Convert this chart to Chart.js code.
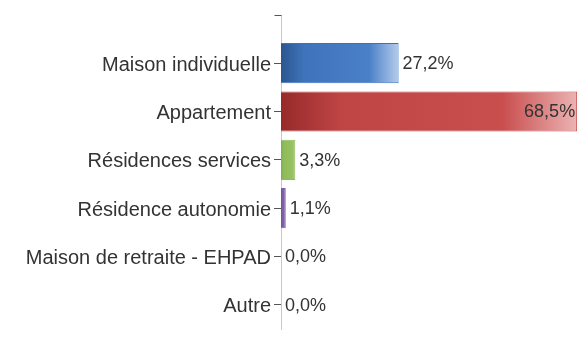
<!DOCTYPE html>
<html>
<head>
<meta charset="utf-8">
<script src="https://cdn.jsdelivr.net/npm/chart.js@4.4.1/dist/chart.umd.min.js"></script>
<style>
  html, body { margin: 0; padding: 0; background: #fff; }
  #wrap { width: 579px; height: 351px; }
</style>
</head>
<body>
<div id="wrap"><canvas id="chartLogement"></canvas></div>
<script>
// Données
const categories = ['Maison individuelle', 'Appartement', 'Résidences services', 'Résidence autonomie', 'Maison de retraite - EHPAD', 'Autre'];
const percentages = [27.2, 68.5, 3.3, 1.1, 0.0, 0.0];

// Couleurs des barres (gauche foncé -> droite clair)
const barStops = [
    ['#2b568f', '#3f74bc', '#4a80c8', '#b4cceb'],
    ['#972a2a', '#bf4444', '#c94f4f', '#ecb3b3'],
    ['#7fae4c', '#8fbc5a', '#95c060', '#a9cf78'],
    ['#6a4f96', '#7b5ea7', '#7f62ab', '#9a82c0'],
    ['#888', '#888', '#888', '#888'],
    ['#888', '#888', '#888', '#888']
];
const borderColors = ['#3a72c0', '#c44a4a', '#8fbc5a', '#7b5ea7', '#888', '#888'];

function barGradient(context) {
    const chart = context.chart;
    const area = chart.chartArea;
    const i = context.dataIndex;
    if (!area || i === undefined) return borderColors[i || 0];
    const x = chart.scales.x;
    const x0 = x.getPixelForValue(0);
    const x1 = Math.max(x.getPixelForValue(percentages[i]), x0 + 1);
    const g = chart.ctx.createLinearGradient(x0, 0, x1, 0);
    const s = barStops[i];
    g.addColorStop(0, s[0]);
    g.addColorStop(0.2, s[1]);
    g.addColorStop(0.75, s[2]);
    g.addColorStop(1, s[3]);
    return g;
}

// Étiquettes de valeur (format français)
const valueLabels = {
    id: 'valueLabels',
    afterDatasetsDraw(chart) {
        const ctx = chart.ctx;
        const meta = chart.getDatasetMeta(0);
        ctx.save();
        ctx.font = '18px "Liberation Sans", Arial, sans-serif';
        ctx.fillStyle = '#333';
        ctx.textBaseline = 'middle';
        meta.data.forEach((bar, i) => {
            const txt = percentages[i].toFixed(1).replace('.', ',') + '%';
            const w = ctx.measureText(txt).width;
            if (bar.x + 4 + w > chart.chartArea.right) {
                ctx.textAlign = 'right';
                ctx.fillText(txt, bar.x - 2, bar.y + 1);
            } else {
                ctx.textAlign = 'left';
                ctx.fillText(txt, bar.x + 4, bar.y + 1);
            }
        });
        ctx.restore();
    }
};

// Prolongement de l'axe vers le haut avec un petit trait
const axisTop = {
    id: 'axisTop',
    afterDraw(chart) {
        const ctx = chart.ctx;
        const x = chart.chartArea.left + 0.5;
        ctx.save();
        ctx.strokeStyle = '#c8c8c8';
        ctx.lineWidth = 1;
        ctx.beginPath();
        ctx.moveTo(x, 15);
        ctx.lineTo(x, chart.chartArea.top);
        ctx.stroke();
        ctx.strokeStyle = '#555';
        ctx.beginPath();
        ctx.moveTo(x - 7, 15.5);
        ctx.lineTo(x, 15.5);
        ctx.stroke();
        ctx.restore();
    }
};

const ctx = document.getElementById('chartLogement').getContext('2d');
const chart = new Chart(ctx, {
    type: 'bar',
    data: {
        labels: categories,
        datasets: [{
            data: percentages,
            backgroundColor: barGradient,
            borderColor: borderColors,
            borderWidth: 1,
            barPercentage: 0.83,
            categoryPercentage: 1
        }]
    },
    options: {
        indexAxis: 'y',
        responsive: true,
        maintainAspectRatio: false,
        animation: false,
        layout: { padding: { top: 39, bottom: 22, left: 0, right: 1 } },
        plugins: {
            legend: { display: false },
            tooltip: { enabled: false }
        },
        scales: {
            x: {
                display: false,
                min: 0,
                max: 68.7
            },
            y: {
                afterFit(scale) { scale.width = 281; },
                border: { display: true, color: '#c8c8c8' },
                grid: {
                    offset: false,
                    drawOnChartArea: false,
                    drawTicks: true,
                    tickLength: 7,
                    color: '#555'
                },
                ticks: {
                    color: '#333',
                    padding: 3,
                    labelOffset: 2,
                    font: { family: '"Liberation Sans", Arial, sans-serif', size: 20 }
                }
            }
        }
    },
    plugins: [valueLabels, axisTop]
});
</script>
</body>
</html>
